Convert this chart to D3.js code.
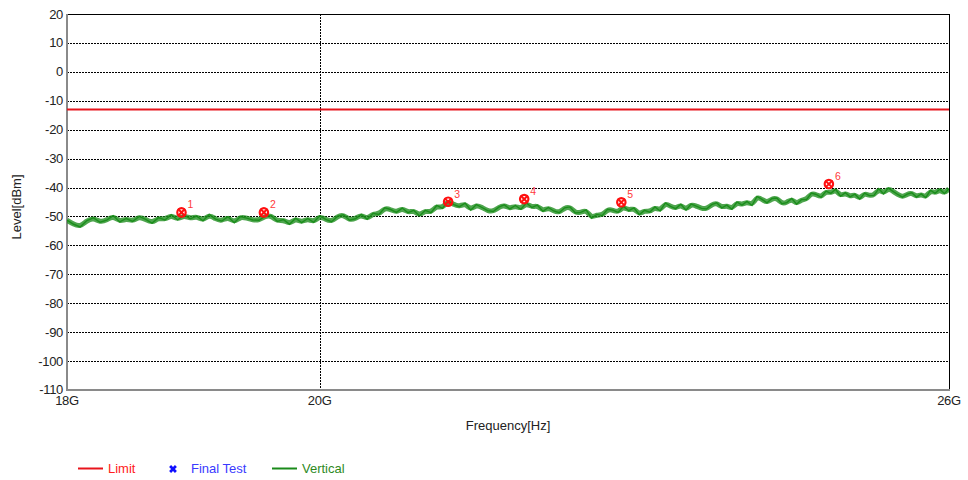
<!DOCTYPE html>
<html>
<head>
<meta charset="utf-8">
<script src="https://cdn.jsdelivr.net/npm/d3@7"></script>
<style>
  html, body { margin: 0; padding: 0; background: #fff; }
  svg { display: block; font-family: "Liberation Sans", Arial, sans-serif; }
</style>
</head>
<body>
<svg id="chart" width="968" height="480"></svg>
<script>
// Sweep frequencies (GHz) of the measured trace
const traceFreq = [
  18.00,18.05,18.10,18.15,18.20,18.25,18.30,18.35,18.40,18.45,
  18.50,18.55,18.60,18.65,18.70,18.75,18.80,18.85,18.90,18.95,
  19.00,19.05,19.10,19.15,19.20,19.25,19.30,19.35,19.40,19.45,
  19.50,19.55,19.60,19.65,19.70,19.75,19.80,19.85,19.90,19.95,
  20.00,20.05,20.10,20.15,20.20,20.25,20.30,20.35,20.40,20.45,
  20.50,20.55,20.60,20.65,20.70,20.75,20.80,20.85,20.90,20.95,
  21.00,21.05,21.10,21.15,21.20,21.25,21.30,21.35,21.40,21.45,
  21.50,21.55,21.60,21.65,21.70,21.75,21.80,21.85,21.90,21.95,
  22.00,22.05,22.10,22.15,22.20,22.25,22.30,22.35,22.40,22.45,
  22.50,22.55,22.60,22.65,22.70,22.75,22.80,22.85,22.90,22.95,
  23.00,23.05,23.10,23.15,23.20,23.25,23.30,23.35,23.40,23.45,
  23.50,23.55,23.60,23.65,23.70,23.75,23.80,23.85,23.90,23.95,
  24.00,24.05,24.10,24.15,24.20,24.25,24.30,24.35,24.40,24.45,
  24.50,24.55,24.60,24.65,24.70,24.75,24.80,24.85,24.90,24.95,
  25.00,25.05,25.10,25.15,25.20,25.25,25.30,25.35,25.40,25.45,
  25.50,25.55,25.60,25.65,25.70,25.75,25.80,25.85,25.90,25.95,26.00
];

// Measured level (dBm), vertical polarisation
const traceLevel = [
  -51.3,-52.7,-53.6,-51.4,-50.5,-52.0,-51.3,-49.7,-51.9,-50.7,
  -51.7,-50.0,-51.0,-52.3,-50.4,-51.2,-49.4,-51.2,-49.5,-50.8,
  -49.9,-51.5,-49.3,-50.9,-51.6,-50.1,-52.2,-50.0,-50.6,-51.2,
  -51.3,-49.9,-49.7,-51.7,-51.1,-52.7,-50.6,-52.1,-50.7,-52.0,
  -49.8,-51.0,-51.8,-49.9,-49.4,-51.3,-50.8,-49.3,-51.0,-48.9,
  -49.3,-47.0,-47.6,-48.6,-47.1,-48.7,-47.9,-49.8,-47.9,-48.7,
  -46.2,-47.2,-44.6,-45.9,-46.6,-45.4,-47.8,-45.9,-46.9,-48.0,
  -48.3,-46.8,-46.0,-47.4,-46.2,-47.5,-45.3,-46.9,-46.1,-48.2,
  -46.9,-48.1,-48.7,-47.0,-46.7,-48.8,-48.6,-47.7,-50.6,-49.3,
  -49.7,-47.5,-47.8,-48.6,-46.5,-48.0,-47.0,-49.4,-47.9,-48.5,
  -46.7,-48.1,-45.3,-46.5,-47.3,-45.8,-47.8,-45.7,-46.4,-47.2,
  -47.4,-45.9,-45.3,-47.0,-46.1,-47.5,-45.0,-46.1,-44.8,-46.2,
  -43.1,-44.1,-45.3,-43.8,-43.6,-45.6,-45.2,-43.8,-45.8,-44.1,
  -44.2,-41.9,-42.4,-43.4,-41.2,-42.0,-40.6,-43.0,-41.8,-43.2,
  -42.3,-44.0,-41.9,-42.8,-42.7,-40.4,-42.2,-40.2,-41.3,-42.4,
  -43.3,-42.3,-41.8,-43.3,-42.2,-43.5,-40.9,-42.0,-40.6,-42.1,-40.4
];

// Final test peaks
const peakFreq  = [18.88, 19.54, 21.10, 21.78, 22.68, 24.73];
const peakLevel = [-48.6, -48.6, -44.9, -44.0, -45.1, -38.8];
const peakLabel = ["1", "2", "3", "4", "5", "6"];

// Limit line (dBm)
const limitLevel = -13;

// Axis ticks
const xTickValues = [18, 20, 26];
const xTickLabels = ["18G", "20G", "26G"];
const yTickValues = [20, 10, 0, -10, -20, -30, -40, -50, -60, -70, -80, -90, -100, -110];

const legendItems = ["Limit", "Final Test", "Vertical"];

const svg = d3.select("#chart");
const plot = { left: 67, right: 949, top: 14, bottom: 390 };

const x = d3.scaleLog().domain([18, 26]).range([plot.left, plot.right]);
const y = d3.scaleLinear().domain([-110, 20]).range([plot.bottom, plot.top]);

// Horizontal dashed gridlines
svg.append("g")
  .selectAll("line")
  .data(yTickValues.filter(v => v !== 20 && v !== -110))
  .join("line")
  .attr("x1", plot.left).attr("x2", plot.right)
  .attr("y1", d => Math.round(y(d)) + 0.5).attr("y2", d => Math.round(y(d)) + 0.5)
  .attr("stroke", "#000").attr("stroke-width", 1).attr("stroke-dasharray", "2,1");

// Vertical dashed gridline at inner ticks
svg.append("g")
  .selectAll("line")
  .data(xTickValues.slice(1, -1))
  .join("line")
  .attr("x1", d => Math.round(x(d)) + 0.5).attr("x2", d => Math.round(x(d)) + 0.5)
  .attr("y1", plot.top).attr("y2", plot.bottom)
  .attr("stroke", "#000").attr("stroke-width", 1).attr("stroke-dasharray", "2,1");

// Frame: black top/right, grey left/bottom
svg.append("line").attr("x1", plot.left).attr("x2", plot.right + 0.5)
  .attr("y1", plot.top + 0.5).attr("y2", plot.top + 0.5).attr("stroke", "#000");
svg.append("line").attr("x1", plot.right + 0.5).attr("x2", plot.right + 0.5)
  .attr("y1", plot.top).attr("y2", plot.bottom).attr("stroke", "#000");
svg.append("line").attr("x1", plot.left).attr("x2", plot.left)
  .attr("y1", plot.top).attr("y2", plot.bottom + 1).attr("stroke", "#8a8a8a").attr("stroke-width", 2);
svg.append("line").attr("x1", plot.left).attr("x2", plot.right + 1)
  .attr("y1", plot.bottom).attr("y2", plot.bottom).attr("stroke", "#8a8a8a").attr("stroke-width", 2);

// Y tick labels
svg.append("g")
  .selectAll("text")
  .data(yTickValues)
  .join("text")
  .attr("x", plot.left - 4)
  .attr("y", d => y(d) - (d === -110 ? 1 : 0))
  .attr("dy", "0.35em")
  .attr("text-anchor", "end")
  .attr("font-size", 13)
  .attr("letter-spacing", "-0.3")
  .attr("fill", "#222")
  .text(d => d);

// X tick labels
svg.append("g")
  .selectAll("text")
  .data(xTickValues)
  .join("text")
  .attr("x", d => x(d))
  .attr("y", plot.bottom + 15)
  .attr("text-anchor", "middle")
  .attr("font-size", 13)
  .attr("letter-spacing", "-0.3")
  .attr("fill", "#222")
  .text((d, i) => xTickLabels[i]);

// Axis titles
svg.append("text")
  .attr("x", (plot.left + plot.right) / 2)
  .attr("y", 430)
  .attr("text-anchor", "middle")
  .attr("font-size", 13)
  .attr("fill", "#222")
  .text("Frequency[Hz]");

svg.append("text")
  .attr("transform", "translate(21,207) rotate(-90)")
  .attr("text-anchor", "middle")
  .attr("font-size", 13)
  .attr("fill", "#222")
  .text("Level[dBm]");

// Limit line
svg.append("line")
  .attr("x1", plot.left).attr("x2", plot.right)
  .attr("y1", y(limitLevel)).attr("y2", y(limitLevel))
  .attr("stroke", "#e8141c").attr("stroke-width", 2);

// Measured trace: soft band plus jagged line
const pts = traceFreq.map((f, i) => [f, traceLevel[i]]);
svg.append("clipPath").attr("id", "plotclip")
  .append("rect").attr("x", plot.left).attr("y", plot.top)
  .attr("width", plot.right - plot.left).attr("height", plot.bottom - plot.top);

svg.append("path")
  .datum(pts)
  .attr("clip-path", "url(#plotclip)")
  .attr("fill", "none")
  .attr("stroke", "#228f22")
  .attr("stroke-opacity", 0.8)
  .attr("stroke-width", 5)
  .attr("d", d3.line().x(d => x(d[0])).y(d => y(d[1])).curve(d3.curveBasis));

svg.append("path")
  .datum(pts)
  .attr("clip-path", "url(#plotclip)")
  .attr("fill", "none")
  .attr("stroke", "#138a13")
  .attr("stroke-opacity", 0.85)
  .attr("stroke-width", 1.4)
  .attr("stroke-linejoin", "miter")
  .attr("d", d3.line().x(d => x(d[0])).y(d => y(d[1])));

// Peak markers
const peaks = svg.append("g")
  .selectAll("g")
  .data(peakFreq.map((f, i) => ({ f, v: peakLevel[i], label: peakLabel[i] })))
  .join("g")
  .attr("transform", d => `translate(${x(d.f)},${y(d.v)})`);

peaks.append("circle")
  .attr("r", 4.2)
  .attr("fill", "none")
  .attr("stroke", "#ff1010")
  .attr("stroke-width", 2.2);
peaks.append("path")
  .attr("d", "M-3.6,-3.6L3.6,3.6M-3.6,3.6L3.6,-3.6")
  .attr("stroke", "#ff1010")
  .attr("stroke-width", 2);
peaks.append("text")
  .attr("x", 6)
  .attr("y", -4)
  .attr("font-size", 10.5)
  .attr("fill", "#ff3a3a")
  .text(d => d.label);

// Legend
const legend = svg.append("g");
legend.append("line").attr("x1", 78).attr("x2", 103).attr("y1", 468.5).attr("y2", 468.5)
  .attr("stroke", "#e8141c").attr("stroke-width", 2);
legend.append("text").attr("x", 108).attr("y", 473).attr("font-size", 13)
  .attr("fill", "#ff2020").text(legendItems[0]);

legend.append("path")
  .attr("transform", "translate(173,469) rotate(45)")
  .attr("d", d3.symbol(d3.symbolCross, 38)())
  .attr("fill", "#1010ff");
legend.append("text").attr("x", 191).attr("y", 473).attr("font-size", 13)
  .attr("fill", "#3a3aff").text(legendItems[1]);

legend.append("line").attr("x1", 272).attr("x2", 297).attr("y1", 468.5).attr("y2", 468.5)
  .attr("stroke", "#1a8a1a").attr("stroke-width", 2);
legend.append("text").attr("x", 302).attr("y", 473).attr("font-size", 13)
  .attr("fill", "#2e8a1e").text(legendItems[2]);
</script>
</body>
</html>
